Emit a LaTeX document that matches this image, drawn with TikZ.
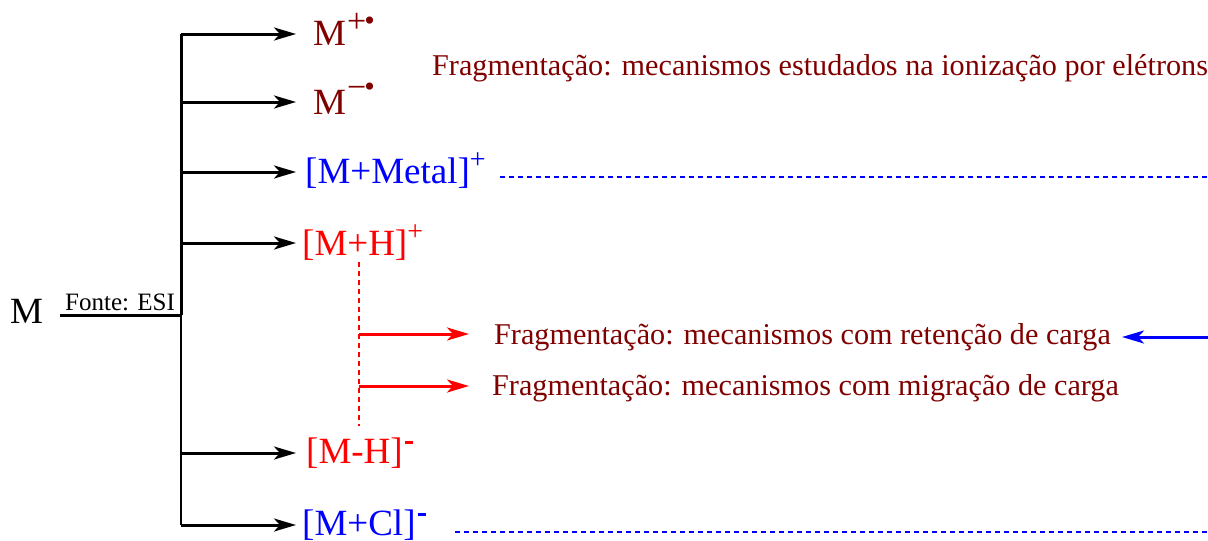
\documentclass[tikz,border=0pt]{standalone}
\usepackage{fontspec}
\setmainfont{Liberation Serif}
\usetikzlibrary{arrows.meta}
\definecolor{maroon}{HTML}{800000}
\definecolor{pblue}{HTML}{0000FF}
\definecolor{pred}{HTML}{FF0000}
% superscripts
\newcommand{\supPlusDot}{\kern1pt\raisebox{13pt}{\fontsize{34}{34}\selectfont +\kern-2pt\raisebox{2pt}{\fontsize{30}{30}\selectfont •}}}
\newcommand{\supMinusDot}{\kern1pt\raisebox{16pt}{\fontsize{34}{34}\selectfont −\kern-2pt\raisebox{2pt}{\fontsize{30}{30}\selectfont •}}}
\newcommand{\supPlus}{\raisebox{15pt}{\fontsize{28}{28}\selectfont +}}
\newcommand{\supMinus}{\kern2pt\raisebox{19pt}{\rule{8pt}{3pt}}}
\begin{document}
\begin{tikzpicture}[x=1pt,y=-1pt,
  lbl/.style={inner sep=0pt,anchor=base west,font=\fontsize{37}{37}\selectfont},
  frag/.style={inner sep=0pt,anchor=base west,text=maroon,font=\fontsize{30.2}{30}\selectfont},
  tip/.style={-{Stealth[length=22pt,width=13pt,inset=6pt]}},
  blk/.style={line width=3pt,tip},
  redarr/.style={pred,line width=3pt,tip},
  bdot/.style={pblue,line width=2pt,dash pattern=on 5pt off 4pt},
  rdot/.style={pred,line width=1.8pt,dash pattern=on 5pt off 4pt}]
\useasboundingbox (0,0) rectangle (1208,541);
% nodes
\node[lbl] (M) at (10,323) {M};
\node[inner sep=0pt,anchor=base west,font=\fontsize{25}{25}\selectfont] (esi) at (65,310) {Fonte: ESI};
\node[lbl,text=maroon] (mp) at (313,45) {M\supPlusDot};
\node[lbl,text=maroon] (mm) at (313,114) {M\supMinusDot};
\node[lbl,text=pblue] (mmet) at (305,183) {[M+Metal]\supPlus};
\node[lbl,text=pred] (mh) at (302,255) {[M+H]\supPlus};
\node[lbl,text=pred] (mmh) at (306,463) {[M-H]\supMinus};
\node[lbl,text=pblue] (mcl) at (302,535) {[M+Cl]\supMinus};
\node[frag] (ei) at (432,75) {Fragmentação: mecanismos estudados na ionização por elétrons};
\node[frag] (ret) at (494,344) {Fragmentação: mecanismos com retenção de carga};
\node[frag] (mig) at (492,395) {Fragmentação: mecanismos com migração de carga};
% coordinates
\coordinate (j) at (181,315);
\coordinate (m0) at (60,315);
\coordinate (t1) at (181,34);
\coordinate (t2) at (181,102);
\coordinate (t3) at (181,172);
\coordinate (t4) at (181,243);
\coordinate (t5) at (181,453);
\coordinate (t6) at (181,525);
\coordinate (e1) at (296,34);
\coordinate (e2) at (296,102);
\coordinate (e3) at (296,172);
\coordinate (e4) at (296,243);
\coordinate (e5) at (296,453);
\coordinate (e6) at (296,525);
\draw[line width=3pt] (m0) -- (j);
\draw[line width=3pt] (t1) -- (j);
\draw[line width=2pt] (j) -- (t6);
\foreach \i in {1,...,6} \draw[blk] (t\i) -- (e\i);
% dotted
\coordinate (v1) at (359,262);
\coordinate (v2) at (359,426);
\draw[rdot] (v1) -- (v2);
\coordinate (r1) at (359,334);
\coordinate (r2) at (359,386);
\coordinate (r1e) at (469,334);
\coordinate (r2e) at (469,386);
\draw[redarr] (r1) -- (r1e);
\draw[redarr] (r2) -- (r2e);
\coordinate (b1) at (500,177);
\coordinate (b1e) at (1208,177);
\draw[bdot] (b1) -- (b1e);
\coordinate (b2) at (455,532);
\coordinate (b2e) at (1208,532);
\draw[bdot] (b2) -- (b2e);
\coordinate (bs) at (1208,337);
\coordinate (be) at (1122,337);
\draw[pblue,line width=3pt,tip] (bs) -- (be);
\end{tikzpicture}
\end{document}
